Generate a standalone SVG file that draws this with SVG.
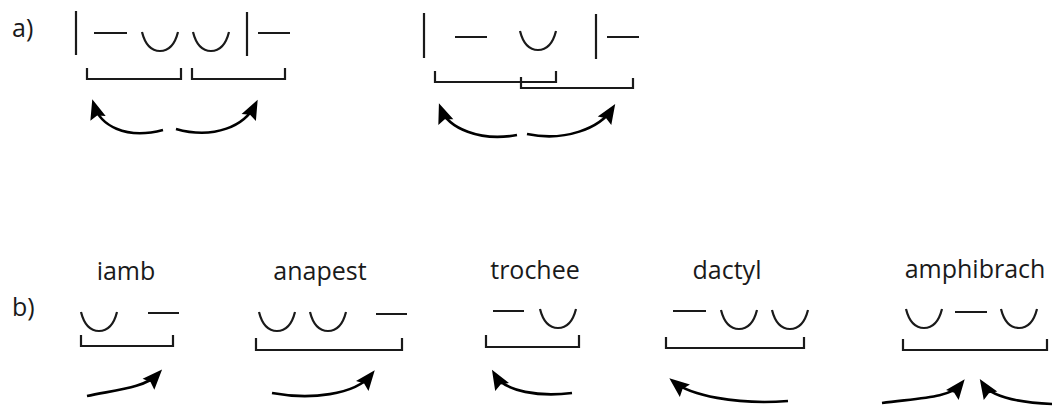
<svg xmlns="http://www.w3.org/2000/svg" width="1052" height="406" viewBox="0 0 1052 406">
<style>
.t{font-family:"Open Sans","Liberation Sans",sans-serif;font-size:25px;fill:#1a1a1a}
.m{fill:none;stroke:#1a1a1a;stroke-width:2.2}
.a{fill:none;stroke:#000;stroke-width:2.6;marker-end:url(#ah)}
</style>
<defs>
<marker id="ah" markerUnits="userSpaceOnUse" markerWidth="21" markerHeight="16" refX="14" refY="8" orient="auto" overflow="visible">
<path d="M0,0 L20,8 L0,16 L3,8 z" fill="#000"/>
</marker>
<path id="breve" class="m" d="M0,0 C3,12 9,19 18,19 C27,19 33,12 36,0"/>
</defs>
<rect width="1052" height="406" fill="#fff"/>
<g id="label-a"><text class="t" x="12" y="37">a)</text></g>
<g id="label-b"><text class="t" x="12" y="316">b)</text></g>
<g id="a-left">
<path class="m" d="M76,11V55 M94,33H127 M247,12V56 M258,33H290"/>
<use href="#breve" x="142" y="32"/>
<use href="#breve" x="193" y="32"/>
<path class="m" d="M87,68V79H181V68 M192,68V79H285V68"/>
</g>
<g id="a-right">
<path class="m" d="M424,13V58 M455,37H487 M596,14V59 M607,37H639"/>
<use href="#breve" x="520" y="31"/>
<path class="m" d="M435,71V82H556V71 M521,77V88H633V78"/>
</g>
<g id="iamb">
<text class="t" x="126" y="280" text-anchor="middle">iamb</text>
<use href="#breve" x="81" y="312"/>
<path class="m" d="M148,313H179 M81,335V346H173V335"/>
</g>
<g id="anapest">
<text class="t" x="320" y="280" text-anchor="middle">anapest</text>
<use href="#breve" x="259" y="312"/>
<use href="#breve" x="310" y="312"/>
<path class="m" d="M376,314H407 M256,338V350H402V338"/>
</g>
<g id="trochee">
<text class="t" x="535" y="279" text-anchor="middle">trochee</text>
<use href="#breve" x="540" y="309"/>
<path class="m" d="M493,311H524 M486,335V347H579V335"/>
</g>
<g id="dactyl">
<text class="t" x="727" y="279" text-anchor="middle">dactyl</text>
<use href="#breve" x="721" y="310"/>
<use href="#breve" x="772" y="310"/>
<path class="m" d="M673,311H706 M666,337V348H804V337"/>
</g>
<g id="amphibrach">
<text class="t" x="975" y="278" text-anchor="middle">amphibrach</text>
<use href="#breve" x="906" y="309"/>
<use href="#breve" x="1001" y="309"/>
<path class="m" d="M955,312H987 M903,339V350H1047V339"/>
</g>
<g id="connectors">
<path class="a" d="M163,130 C125,140 100,125 94,105"/>
<path class="a" d="M176,129 C215,140 245,125 255,105"/>
<path class="a" d="M517,135 C480,142 448,128 441,109"/>
<path class="a" d="M527,134 C565,142 600,128 612,109"/>
<path class="a" d="M87,396 C115,390 145,388 158,374"/>
<path class="a" d="M272,393 C310,400 355,395 371,375"/>
<path class="a" d="M572,393 C540,397 505,392 495,375"/>
<path class="a" d="M788,401 C735,405 690,395 674,382"/>
<path class="a" d="M882,403 C920,398 950,398 961,384"/>
<path class="a" d="M1052,404 C1010,402 990,395 983,384"/>
</g>
</svg>
